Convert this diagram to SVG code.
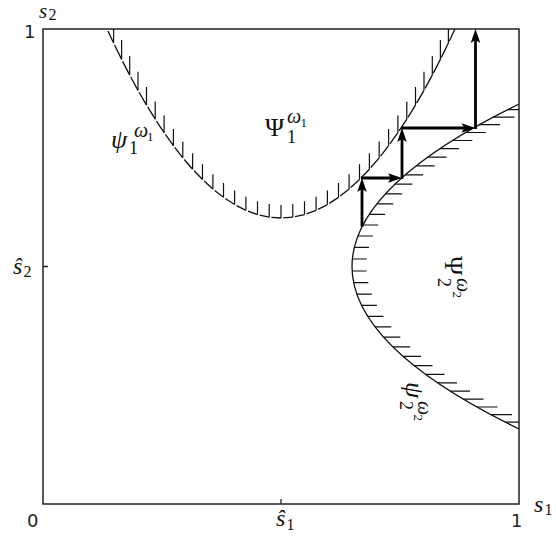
<svg xmlns="http://www.w3.org/2000/svg" width="556" height="546" viewBox="0 0 556 546">
<style>
.box{fill:none;stroke:#222;stroke-width:1.5}
.tick{stroke:#222;stroke-width:1.3;fill:none}
.c1{fill:none;stroke:#111;stroke-width:1.3;stroke-dasharray:0 2.2 300}
.c2{fill:none;stroke:#111;stroke-width:1.3}
.h{fill:none;stroke:#111;stroke-width:1.2}
.arr{fill:none;stroke:#000;stroke-width:2.8;marker-end:url(#ah)}
.num{font-family:"DejaVu Sans",sans-serif;font-size:18px;fill:#222}
.mi{font-family:"Liberation Serif",serif;font-style:italic;font-size:24px;fill:#111}
.up{font-family:"Liberation Serif",serif;font-size:26px;fill:#111}
.sb{font-family:"Liberation Serif",serif;font-size:16px;fill:#111}
.sb2{font-family:"Liberation Serif",serif;font-size:18px;fill:#111}
.sp{font-family:"Liberation Serif",serif;font-style:italic;font-size:20px;fill:#111}
.ss{font-family:"Liberation Serif",serif;font-size:13px;fill:#111}
</style>
<defs>
<clipPath id="clip"><rect x="43" y="29" width="476" height="475"/></clipPath>
<marker id="ah" markerUnits="userSpaceOnUse" orient="auto" refX="0" refY="0" markerWidth="20" markerHeight="20" overflow="visible">
<path d="M8,0 L-6,-4.8 L-3,0 L-6,4.8 Z" fill="#000"/>
</marker>
</defs>
<g id="axes">
<rect class="box" x="43" y="29" width="476" height="475"/>
<path class="tick" d="M281,504V499 M43,266.5H48"/>
<text class="num" x="24" y="38">1</text>
<text class="num" x="27" y="527">0</text>
<text class="num" x="511" y="527">1</text>
<text class="mi" x="39" y="18" style="font-size:21px">s</text><text class="sb" x="48.5" y="19.5">2</text>
<text class="mi" x="534" y="512">s</text><text class="sb" x="544.5" y="515">1</text>
<text class="mi" x="276" y="526">ŝ</text><text class="sb" x="286.5" y="530">1</text>
<text class="mi" x="13" y="274">ŝ</text><text class="sb" x="23.5" y="277">2</text>
</g>
<g id="psi1" clip-path="url(#clip)">
<path class="c1" d="M107,29 L113.6,43.05 M113.6,43.05 L121.6,59.38 M121.6,59.38 L129.7,75.09 M129.7,75.09 L138,90.34 M138,90.34 L146.5,105.06 M146.5,105.06 L155.2,119.2 M155.2,119.2 L164.1,132.69 M164.1,132.69 L173.4,145.72 M173.4,145.72 L182.8,157.8 M182.8,157.8 L192.6,169.21 M192.6,169.21 L202.5,179.53 M202.5,179.53 L212.9,189.05 M212.9,189.05 L223.5,197.36 M223.5,197.36 L234.6,204.56 M234.6,204.56 L245.9,210.31 M245.9,210.31 L257.5,214.55 M257.5,214.55 L269.2,217.13 M269.2,217.13 L281,218 M281,218 L292.8,217.13 M292.8,217.13 L304.5,214.55 M304.5,214.55 L316.1,210.31 M316.1,210.31 L327.4,204.56 M327.4,204.56 L338.5,197.36 M338.5,197.36 L349.1,189.05 M349.1,189.05 L359.5,179.53 M359.5,179.53 L369.4,169.21 M369.4,169.21 L379.2,157.8 M379.2,157.8 L388.6,145.72 M388.6,145.72 L397.9,132.69 M397.9,132.69 L406.8,119.2 M406.8,119.2 L415.5,105.06 M415.5,105.06 L424,90.34 M424,90.34 L432.3,75.09 M432.3,75.09 L440.4,59.38 M440.4,59.38 L448.4,43.05 M448.4,43.05 L455,29"/>
<path class="h" d="M113.6,43.05V23.3 M121.6,59.38V39.98 M129.7,75.09V56.08 M138,90.34V71.74 M146.5,105.06V86.88 M155.2,119.2V101.46 M164.1,132.69V115.4 M173.4,145.72V128.9 M182.8,157.8V141.45 M192.6,169.21V153.34 M202.5,179.53V164.15 M212.9,189.05V174.16 M223.5,197.36V182.94 M234.6,204.56V190.58 M245.9,210.31V196.73 M257.5,214.55V201.28 M269.2,217.13V204.06 M281,218V205 M292.8,217.13V204.06 M304.5,214.55V201.28 M316.1,210.31V196.73 M327.4,204.56V190.58 M338.5,197.36V182.94 M349.1,189.05V174.16 M359.5,179.53V164.15 M369.4,169.21V153.34 M379.2,157.8V141.45 M388.6,145.72V128.9 M397.9,132.69V115.4 M406.8,119.2V101.46 M415.5,105.06V86.88 M424,90.34V71.74 M432.3,75.09V56.08 M440.4,59.38V39.98 M448.4,43.05V23.3"/>
</g>
<g id="psi2" clip-path="url(#clip)">
<path class="c2" d="M519,104 Q185,266.5 519,429"/>
<path class="h" d="M507.48,109.7H529.1 M493.15,117.1H514.4 M479.16,124.7H499.9 M465.55,132.5H485.9 M452.4,140.5H472.3 M439.76,148.7H459.2 M427.69,157.1H446.6 M416.13,165.8H434.6 M405.18,174.8H423.1 M394.83,184.2H412.3 M385.33,193.9H402.2 M376.78,203.9H393.2 M369.23,214.3H385.1 M362.89,225H378.3 M357.88,236H372.9 M354.33,247.3H369 M352.36,259H366.9 M352.13,271H366.6 M353.66,282.7H368.3 M356.85,294.2H371.8 M361.57,305.4H376.9 M367.68,316.3H383.4 M375.07,326.9H391.3 M383.52,337.1H400.3 M392.88,346.9H410.2 M403.11,356.4H421 M414.11,365.6H432.5 M425.63,374.4H444.5 M437.68,382.9H457 M450.18,391.1H470 M463.19,399.1H483.5 M476.84,407H497.5 M490.9,414.7H512 M505.11,422.1H526.7"/>
</g>
<g id="labels">
<g id="Psi1">
<text class="up" x="265" y="136">Ψ</text><text class="sb2" x="287" y="143">1</text>
<text class="sp" x="287" y="123">ω</text><text class="ss" x="300.5" y="127">1</text>
</g>
<g id="psi1lab">
<text class="mi" x="111" y="148" style="font-size:26px">ψ</text><text class="sb2" x="129" y="154">1</text>
<text class="sp" x="134" y="137">ω</text><text class="ss" x="147" y="141">1</text>
</g>
<g id="Psi2" transform="translate(445,256) rotate(90)">
<text class="up" x="0" y="0">Ψ</text><text class="sb2" x="22" y="7">2</text>
<text class="sp" x="22" y="-12">ω</text><text class="ss" x="35.5" y="-8">2</text>
</g>
<g id="psi2lab" transform="translate(406,382) rotate(90)">
<text class="mi" x="0" y="0" style="font-size:26px">ψ</text><text class="sb2" x="19" y="6">2</text>
<text class="sp" x="19" y="-12">ω</text><text class="ss" x="32.5" y="-8">2</text>
</g>
</g>
<g id="connectors">
<path class="arr" d="M362,226.7V186"/>
<path class="arr" d="M361,178H394"/>
<path class="arr" d="M402,179V136"/>
<path class="arr" d="M401,128H467.5"/>
<path class="arr" d="M475.5,129V37"/>
</g>
</svg>
